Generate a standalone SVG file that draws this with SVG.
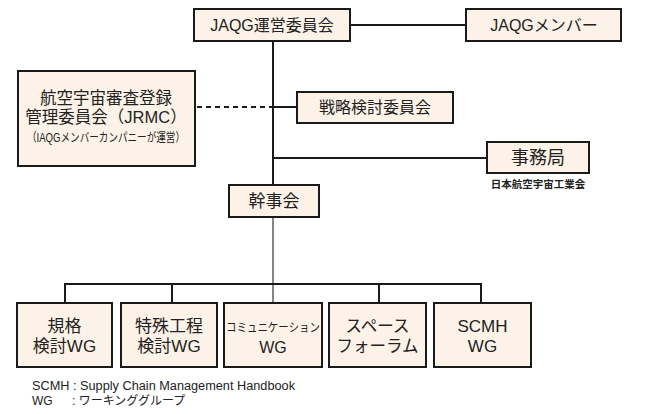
<svg xmlns="http://www.w3.org/2000/svg" width="650" height="414" viewBox="0 0 650 414">
<style>
.box{fill:#FDF2E7;stroke:#1a1a1a;stroke-width:2}
.t{font-family:"Liberation Sans","Noto Sans CJK JP",sans-serif;fill:#222;text-anchor:middle}
.c{stroke:#1a1a1a;stroke-width:2;fill:none}
</style>
<rect width="650" height="414" fill="#fff"/>
<g id="connectors">
<line class="c" x1="350" y1="25" x2="466" y2="25"/>
<line class="c" x1="273" y1="41" x2="273" y2="185"/>
<line class="c" x1="273" y1="107" x2="297" y2="107"/>
<line class="c" x1="197" y1="107" x2="273" y2="107" stroke-dasharray="5,4"/>
<line class="c" x1="273" y1="158" x2="487" y2="158"/>
<line x1="273" y1="217" x2="273" y2="303" stroke="#333" stroke-width="1.2"/>
<line class="c" x1="64" y1="284" x2="482" y2="284"/>
<line class="c" x1="65" y1="283" x2="65" y2="303"/>
<line class="c" x1="172" y1="283" x2="172" y2="303"/>
<line class="c" x1="379" y1="283" x2="379" y2="303"/>
<line class="c" x1="481" y1="283" x2="481" y2="303"/>
</g>
<g id="jaqg">
<rect class="box" x="194" y="9" width="156" height="32"/>
<text class="t" x="272" y="31" font-size="16">JAQG運営委員会</text>
</g>
<g id="members">
<rect class="box" x="466" y="9" width="155" height="32"/>
<text class="t" x="544" y="31" font-size="16">JAQGメンバー</text>
</g>
<g id="jrmc">
<rect class="box" x="18" y="71" width="177" height="95"/>
<text class="t" x="106" y="104" font-size="16.5">航空宇宙審査登録</text>
<text class="t" x="106" y="123" font-size="16.5">管理委員会（JRMC）</text>
<text class="t" x="106" y="142" font-size="12" textLength="158" lengthAdjust="spacingAndGlyphs">（IAQGメンバーカンパニーが運営）</text>
</g>
<g id="senryaku">
<rect class="box" x="297" y="92" width="156" height="31"/>
<text class="t" x="375" y="113" font-size="16">戦略検討委員会</text>
</g>
<g id="jimukyoku">
<rect class="box" x="487" y="142" width="102" height="31"/>
<text class="t" x="538" y="164" font-size="18">事務局</text>
<text class="t" x="538" y="188" font-size="10.5" font-weight="bold">日本航空宇宙工業会</text>
</g>
<g id="kanjikai">
<rect class="box" x="229" y="185" width="90" height="32"/>
<text class="t" x="274" y="207" font-size="17">幹事会</text>
</g>
<g id="wg1">
<rect class="box" x="17" y="303" width="95" height="64"/>
<text class="t" x="64.5" y="332" font-size="17">規格</text>
<text class="t" x="64.5" y="352" font-size="17">検討WG</text>
</g>
<g id="wg2">
<rect class="box" x="121" y="303" width="96" height="64"/>
<text class="t" x="169" y="332" font-size="17">特殊工程</text>
<text class="t" x="169" y="352" font-size="17">検討WG</text>
</g>
<g id="wg3">
<rect class="box" x="224" y="303" width="98" height="64"/>
<text class="t" x="273" y="332" font-size="12" textLength="94" lengthAdjust="spacingAndGlyphs">コミュニケーション</text>
<text class="t" x="273" y="353" font-size="16">WG</text>
</g>
<g id="wg4">
<rect class="box" x="329" y="303" width="97" height="64"/>
<text class="t" x="377.5" y="332" font-size="16.5">スペース</text>
<text class="t" x="377.5" y="352" font-size="16.5">フォーラム</text>
</g>
<g id="wg5">
<rect class="box" x="434" y="303" width="97" height="64"/>
<text class="t" x="482.5" y="332" font-size="17">SCMH</text>
<text class="t" x="482.5" y="352" font-size="17">WG</text>
</g>
<g id="legend">
<text x="32" y="390" font-family="Liberation Sans,Noto Sans CJK JP,sans-serif" font-size="12" fill="#222" textLength="263" lengthAdjust="spacingAndGlyphs">SCMH : Supply Chain Management Handbook</text>
<text x="32" y="405" font-family="Liberation Sans,Noto Sans CJK JP,sans-serif" font-size="12" fill="#222">WG</text>
<text x="72" y="405" font-family="Liberation Sans,Noto Sans CJK JP,sans-serif" font-size="12" fill="#222">: ワーキンググループ</text>
</g>
</svg>
